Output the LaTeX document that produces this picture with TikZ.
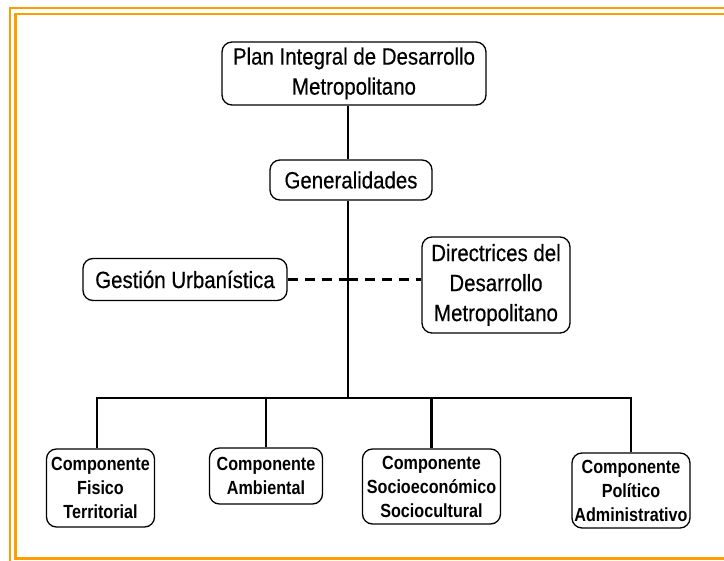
\documentclass[tikz,border=0pt]{standalone}
\usepackage{fontspec}
\setmainfont{Liberation Sans}[FakeStretch=0.87, FakeBold=0.4]
\newfontfamily\compfont{Liberation Sans}[FakeStretch=0.85]
\definecolor{frame}{HTML}{FF9C00}
\begin{document}
\begin{tikzpicture}[x=1pt,y=-1pt,
  box/.style={draw=black, line width=1.3pt, rounded corners=10pt, fill=white, align=center, inner sep=0pt,
    font=\fontsize{23.5}{30}\selectfont},
  compbox/.style={box, font=\compfont\bfseries\fontsize{19}{24}\selectfont},
  link/.style={line width=2.6pt},
  dashlink/.style={line width=2.2pt, dash pattern=on 10pt off 7pt}]
\useasboundingbox (0,0) rectangle (724,561);
\fill[white] (0,0) rectangle (724,561);
\draw[frame, line width=2.6pt] (10,8) rectangle (740,575);
\draw[frame, line width=2.6pt] (15.5,14) rectangle (735,558.5);

\node[box, minimum width=264pt, minimum height=63pt] (top) at (354,73.5) {Plan Integral de Desarrollo\\Metropolitano};
\node[box, minimum width=162pt, minimum height=40pt] (gen) at (351,180) {Generalidades};
\node[box, minimum width=204pt, minimum height=42pt] (gest) at (185,279.5) {Gestión Urbanística};
\node[box, minimum width=148pt, minimum height=96pt] (dir) at (496,285) {Directrices del\\Desarrollo\\Metropolitano};

\node[compbox, minimum width=108pt, minimum height=78pt] (c1) at (100.5,488) {Componente\\Fisico\\Territorial};
\node[compbox, minimum width=113pt, minimum height=56pt] (c2) at (266,476) {Componente\\Ambiental};
\node[compbox, minimum width=138pt, minimum height=75pt] (c3) at (431.5,486.5) {Componente\\Socioeconómico\\Sociocultural};
\node[compbox, minimum width=118pt, minimum height=75pt] (c4) at (631,490.5) {Componente\\Político\\Administrativo};

\coordinate (trunk) at (348,398);
\coordinate (cross) at (348,279.5);

\draw[link] (top.south -| trunk) -- (gen.north -| trunk);
\draw[link] (gen.south -| trunk) -- (trunk);
\draw[link, line cap=rect] (trunk -| 97,0) -- (trunk -| c4.north);
\draw[link] (97,398) -- (97,0 |- c1.north);
\draw[link] (trunk -| c2.north) -- (c2.north);
\draw[link] (trunk -| c3.north) -- (c3.north);
\draw[link] (trunk -| c4.north) -- (c4.north);
\draw[dashlink] (gest.east) -- (cross);
\draw[dashlink] (cross) -- (dir.west |- cross);
\end{tikzpicture}
\end{document}
